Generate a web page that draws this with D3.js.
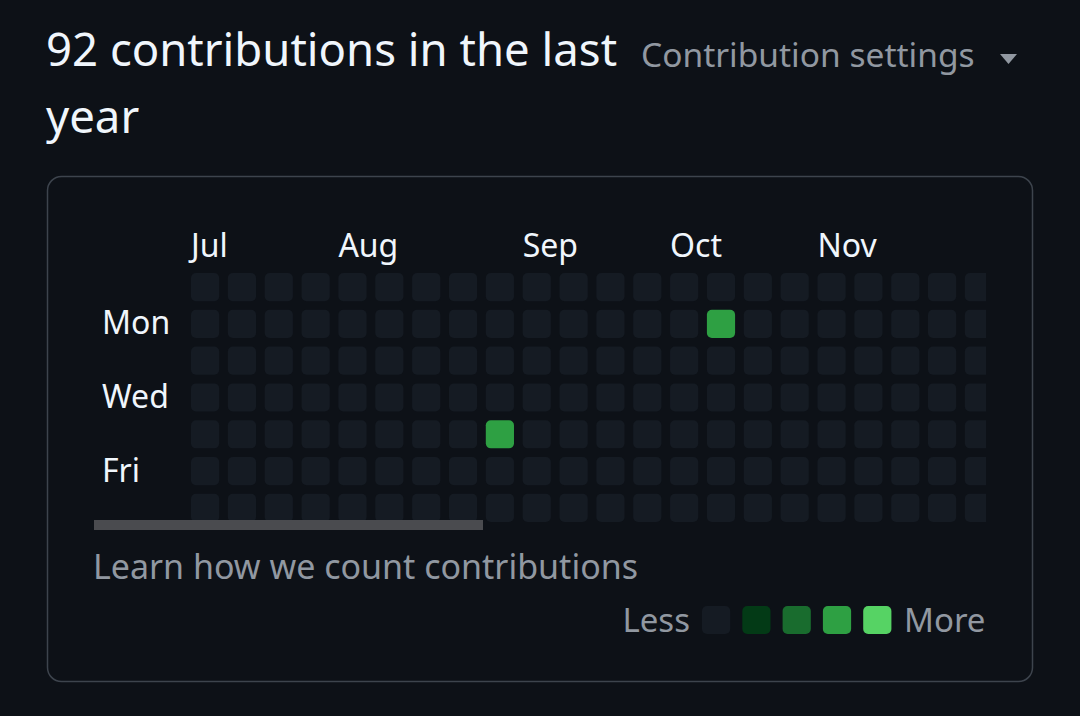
<!DOCTYPE html>
<html>
<head>
<meta charset="utf-8">
<script src="https://cdn.jsdelivr.net/npm/d3@7"></script>
<style>
  body { margin: 0; background: #0d1117; }
  svg { display: block; font-family: "Noto Sans", sans-serif; }
</style>
</head>
<body>
<div id="chart"></div>
<script>
// weeks shown in the visible part of the scrolled graph
var weekCount = 22;
var dayCount = 7;

var monthNames = ["Jul", "Aug", "Sep", "Oct", "Nov"];
var monthWeeks = [0, 4, 9, 13, 17];

var dayNames = ["Mon", "Wed", "Fri"];
var dayRows = [1, 3, 5];

// the only days with activity in view
var activeWeeks = [8, 14];
var activeDays = [4, 1];
var activeLevels = [3, 3];

var levelColors = ["#151b23", "#033a16", "#196c2e", "#2ea043", "#56d364"];
var levels = [0, 1, 2, 3, 4];

var width = 1080, height = 716;
var pad = 0.235;

var svg = d3.select("#chart").append("svg")
    .attr("width", width).attr("height", height);

svg.append("rect").attr("width", width).attr("height", height).attr("fill", "#0d1117");

// header
svg.append("text")
    .attr("x", 46).attr("y", 66)
    .attr("fill", "#f0f6fc").attr("font-size", 45.5)
    .text("92 contributions in the last");
svg.append("text")
    .attr("x", 46).attr("y", 133)
    .attr("fill", "#f0f6fc").attr("font-size", 45.5)
    .text("year");
svg.append("text")
    .attr("x", 641).attr("y", 67)
    .attr("fill", "#9198a1").attr("font-size", 33.5)
    .text("Contribution settings");
svg.append("path")
    .attr("d", "M1000,54L1017,54L1008.5,64Z")
    .attr("fill", "#9198a1");

// card
svg.append("rect")
    .attr("x", 47.5).attr("y", 176.5)
    .attr("width", 985).attr("height", 505)
    .attr("rx", 14)
    .attr("fill", "none").attr("stroke", "#3d444d").attr("stroke-width", 1.5);

var x = d3.scaleBand()
    .domain(d3.range(weekCount))
    .range([191, 191 + (weekCount - pad) * 36.85])
    .paddingInner(pad).paddingOuter(0);

var y = d3.scaleBand()
    .domain(d3.range(dayCount))
    .range([273, 273 + (dayCount - pad) * 36.8])
    .paddingInner(pad).paddingOuter(0);

var color = d3.scaleOrdinal().domain(levels).range(levelColors);

svg.append("clipPath").attr("id", "gridClip")
    .append("rect").attr("x", 94).attr("y", 200).attr("width", 892).attr("height", 340);

var grid = svg.append("g").attr("clip-path", "url(#gridClip)");

var cells = [];
for (var w = 0; w < weekCount; ++w) {
    for (var d = 0; d < dayCount; ++d) {
        cells.push({ week: w, day: d, level: 0 });
    }
}
for (var i = 0; i < activeWeeks.length; ++i) {
    cells[activeWeeks[i] * dayCount + activeDays[i]].level = activeLevels[i];
}

grid.selectAll("rect.day")
    .data(cells)
    .enter().append("rect")
    .attr("class", "day")
    .attr("x", function(d) { return x(d.week); })
    .attr("y", function(d) { return y(d.day); })
    .attr("width", x.bandwidth())
    .attr("height", y.bandwidth())
    .attr("rx", 5)
    .attr("fill", function(d) { return color(d.level); });

svg.selectAll("text.month")
    .data(monthNames)
    .enter().append("text")
    .attr("class", "month")
    .attr("x", function(d, i) { return x(monthWeeks[i]); })
    .attr("y", 257)
    .attr("fill", "#f0f6fc").attr("font-size", 32)
    .text(function(d) { return d; });

svg.selectAll("text.dayname")
    .data(dayNames)
    .enter().append("text")
    .attr("class", "dayname")
    .attr("x", 102)
    .attr("y", function(d, i) { return y(dayRows[i]) + y.bandwidth() / 2; })
    .attr("dy", "0.33em")
    .attr("fill", "#f0f6fc").attr("font-size", 32)
    .text(function(d) { return d; });

// horizontal scrollbar thumb
svg.append("rect")
    .attr("x", 94).attr("y", 520)
    .attr("width", 389).attr("height", 10)
    .attr("fill", "#4a4b4f");

svg.append("text")
    .attr("x", 93).attr("y", 579)
    .attr("fill", "#9198a1").attr("font-size", 34)
    .text("Learn how we count contributions");

// legend
var lx = d3.scaleBand()
    .domain(levels)
    .range([702, 702 + (levels.length - 0.3) * 40.3])
    .paddingInner(0.3).paddingOuter(0);

svg.selectAll("rect.legend")
    .data(levels)
    .enter().append("rect")
    .attr("class", "legend")
    .attr("x", function(d) { return lx(d); })
    .attr("y", 606)
    .attr("width", lx.bandwidth()).attr("height", 28)
    .attr("rx", 5)
    .attr("fill", function(d) { return color(d); });

svg.append("text")
    .attr("x", 690).attr("y", 632)
    .attr("text-anchor", "end")
    .attr("fill", "#9198a1").attr("font-size", 33)
    .text("Less");
svg.append("text")
    .attr("x", 904).attr("y", 632)
    .attr("fill", "#9198a1").attr("font-size", 33)
    .text("More");
</script>
</body>
</html>
